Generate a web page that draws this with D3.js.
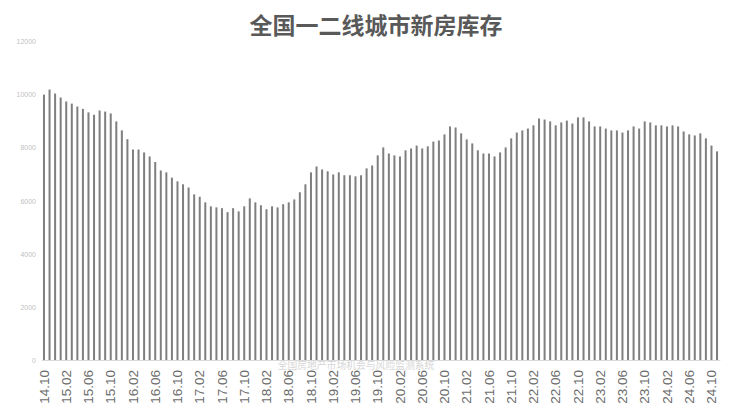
<!DOCTYPE html>
<html>
<head>
<meta charset="utf-8">
<script src="https://cdn.jsdelivr.net/npm/d3@7"></script>
<style>
  html, body { margin: 0; padding: 0; background: #fff; }
  svg { display: block; }
</style>
</head>
<body>
<svg id="chart" width="735" height="419"></svg>
<script>
const title = "全国一二线城市新房库存";
const source = "全国房地产市场机会与风险监测系统";

// Monthly categories: 2014.10 .. 2024.11
const startYear = 14, startMonth = 10, monthCount = 122;
const categories = [];
for (let i = 0; i < monthCount; i++) {
  const m = startMonth - 1 + i;
  const y = startYear + Math.floor(m / 12);
  const mm = (m % 12) + 1;
  categories.push(String(y).padStart(2, "0") + "." + String(mm).padStart(2, "0"));
}

const tickLabels = ["14.10","15.02","15.06","15.10","16.02","16.06","16.10","17.02","17.06","17.10",
  "18.02","18.06","18.10","19.02","19.06","19.10","20.02","20.06","20.10","21.02","21.06","21.10",
  "22.02","22.06","22.10","23.02","23.06","23.10","24.02","24.06","24.10"];

const values = [
  10000,10190,10040,9890,9740,9660,9550,9460,9330,9240,
  9400,9360,9290,8990,8650,8320,7930,7930,7820,7670,
  7460,7140,7070,6870,6730,6620,6500,6240,6150,5940,
  5790,5750,5720,5570,5720,5600,5790,6090,5940,5830,
  5680,5790,5750,5870,5940,6050,6320,6620,7070,7290,
  7180,7110,6990,7070,6960,6960,6920,6960,7220,7330,
  7710,8010,7780,7710,7670,7900,7970,8080,7970,8050,
  8230,8270,8500,8800,8760,8540,8310,8160,7900,7780,
  7780,7670,7820,8010,8350,8570,8650,8720,8840,9100,
  9060,8990,8840,8950,9020,8910,9140,9140,8990,8800,
  8800,8720,8650,8650,8570,8650,8800,8720,8990,8950,
  8840,8840,8800,8840,8800,8610,8500,8460,8540,8350,
  8080,7860
];

const yTicks = [0, 2000, 4000, 6000, 8000, 10000, 12000];

const svg = d3.select("#chart");
const x = d3.scaleBand().domain(categories).range([41.2, 719.8]).paddingInner(0.64).paddingOuter(0.32);
const y = d3.scaleLinear().domain([0, 12000]).range([360, 41.5]);

// Title
svg.append("text")
  .attr("x", 376).attr("y", 34)
  .attr("text-anchor", "middle")
  .attr("font-family", "'Noto Sans CJK SC', sans-serif")
  .attr("font-weight", "bold")
  .attr("font-size", 23)
  .attr("fill", "#595959")
  .text(title);

// Y axis (labels only)
const yAxis = svg.append("g")
  .attr("transform", "translate(36,0)")
  .call(d3.axisLeft(y).tickValues(yTicks).tickSize(0).tickPadding(0).tickFormat(d3.format("d")));
yAxis.select(".domain").remove();
yAxis.selectAll("text")
  .attr("font-family", "'Liberation Sans', Arial, sans-serif")
  .attr("font-size", 7)
  .attr("fill", "#bfbfbf");

// Bars
svg.append("g").selectAll("rect")
  .data(values)
  .join("rect")
  .attr("x", (d, i) => x(categories[i]))
  .attr("width", x.bandwidth())
  .attr("y", d => y(d))
  .attr("height", d => y(0) - y(d))
  .attr("fill", "#7f7f7f");

// X axis
const xAxis = svg.append("g")
  .attr("transform", "translate(0,360)")
  .call(d3.axisBottom(x).tickValues(tickLabels).tickSize(0).tickPadding(0));
xAxis.select(".domain").attr("stroke", "#d9d9d9").attr("stroke-width", 1);
xAxis.selectAll("text")
  .attr("font-family", "'Liberation Sans', Arial, sans-serif")
  .attr("font-size", 13.5)
  .attr("fill", "#6b6b6b")
  .attr("text-anchor", "end")
  .attr("dy", "0.35em")
  .attr("transform", "translate(0,10) rotate(-90)")
  .attr("x", 0).attr("y", 0);

// Source text
svg.append("text")
  .attr("x", 356).attr("y", 369)
  .attr("text-anchor", "middle")
  .attr("font-family", "'Noto Sans CJK SC', sans-serif")
  .attr("font-size", 9.8)
  .attr("fill", "#d6d6d6")
  .text(source);
</script>
</body>
</html>
